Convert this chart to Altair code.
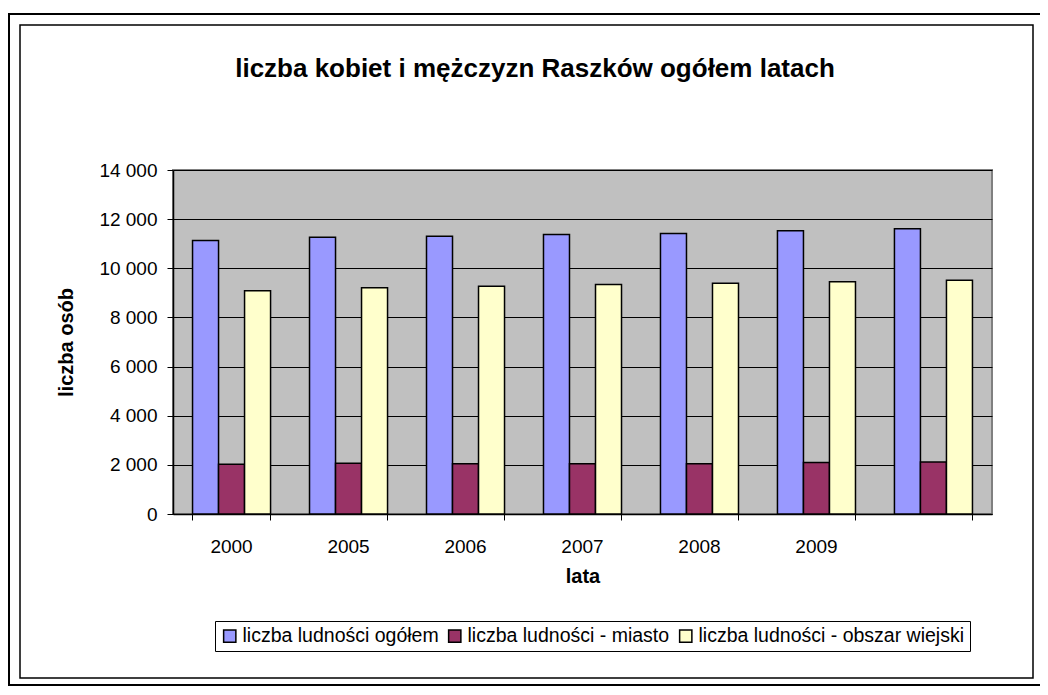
import altair as alt
import pandas as pd

years = ["2000", "2005", "2006", "2007", "2008", "2009", " "]
series = ["liczba ludności ogółem", "liczba ludności - miasto", "liczba ludności - obszar wiejski"]
colors = ["#9999FF", "#993366", "#FFFFCC"]
ogolem = [11130, 11265, 11305, 11375, 11415, 11525, 11605]
miasto = [2020, 2070, 2050, 2045, 2045, 2100, 2115]
wiejski = [9090, 9210, 9265, 9345, 9390, 9455, 9510]

rows = []
for i, y in enumerate(years):
    for s, vals in zip(series, [ogolem, miasto, wiejski]):
        rows.append({"rok": y, "seria": s, "wartosc": vals[i]})
df = pd.DataFrame(rows)

FONT = "Liberation Sans"

bars = alt.Chart(df).mark_bar(stroke="black", strokeWidth=1.5).encode(
    x=alt.X("rok:N", sort=years,
            scale=alt.Scale(paddingInner=0.333, paddingOuter=0.167),
            axis=alt.Axis(title="lata", labelAngle=0, labelFontSize=19, labelPadding=17,
                          titleFontSize=20, titleFontWeight="bold", titlePadding=10,
                          bandPosition=1, tickExtra=True, tickSize=6, tickColor="black",
                          domainColor="black", domainWidth=1.5, labelColor="black",
                          titleColor="black", grid=False)),
    xOffset=alt.XOffset("seria:N", sort=series, scale=alt.Scale(paddingInner=0, paddingOuter=0)),
    y=alt.Y("wartosc:Q", scale=alt.Scale(domain=[0, 14000], nice=False),
            axis=alt.Axis(title="liczba osób", values=list(range(0, 14001, 2000)),
                          labelExpr="replace(format(datum.value, ','), ',', ' ')",
                          labelFontSize=19, labelPadding=10, tickSize=6, tickColor="black",
                          domainColor="black", domainWidth=1.5, gridColor="black", gridWidth=1,
                          titleFontSize=20, titleFontWeight="bold", titlePadding=22,
                          labelColor="black", titleColor="black")),
    color=alt.Color("seria:N", sort=series,
                    scale=alt.Scale(domain=series, range=colors),
                    legend=alt.Legend(orient="none", legendX=42, legendY=451, direction="horizontal",
                                      title=None, labelFontSize=19.5, labelLimit=500, labelColor="black",
                                      symbolType="square", symbolSize=150, symbolStrokeColor="black",
                                      symbolStrokeWidth=1.5, symbolOpacity=1, columnPadding=6,
                                      labelOffset=3, strokeColor="black", fillColor="white",
                                      padding=5, columns=3)),
)

frame_df = pd.DataFrame({"k": [0]})
outer = alt.Chart(frame_df).mark_rect(fill=None, stroke="black", strokeWidth=2).encode(
    x=alt.value(-164), x2=alt.value(868), y=alt.value(-156), y2=alt.value(515))
inner = alt.Chart(frame_df).mark_rect(fill=None, stroke="black", strokeWidth=1.5).encode(
    x=alt.value(-153), x2=alt.value(860), y=alt.value(-145), y2=alt.value(508))

chart = alt.layer(bars, outer, inner).properties(
    width=819, height=344,
    padding={"left": 165, "top": 162, "right": 48, "bottom": 173},
    autosize=alt.AutoSizeParams(type="none"),
    title=alt.Title("liczba kobiet i mężczyzn Raszków ogółem latach", fontSize=26, fontWeight="bold",
                    font=FONT, color="black", anchor="middle", frame="bounds", offset=-69, dx=10),
).configure(font=FONT).configure_view(
    fill="#C0C0C0", stroke="#808080", strokeWidth=2
).configure_axis(labelFont=FONT, titleFont=FONT)

chart.save("out.html", embed_options={"renderer": "svg", "actions": False})
